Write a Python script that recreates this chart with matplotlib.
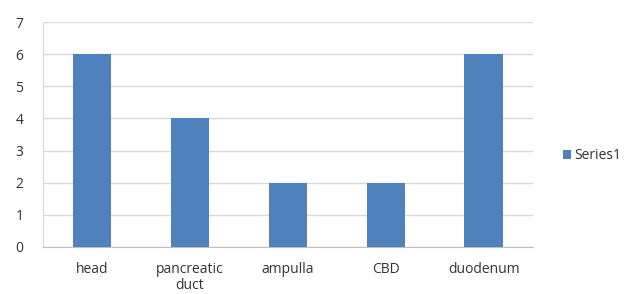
import matplotlib
matplotlib.use('Agg')
import matplotlib.pyplot as plt
from matplotlib.patches import Patch

# data
categories = ['head', 'pancreatic\nduct', 'ampulla', 'CBD', 'duodenum']
values = [6, 4, 2, 2, 6]
series_name = 'Series1'

bar_color = '#4F81BD'
text_color = '#333333'
grid_color = '#D9D9D9'

plt.rcParams['font.family'] = ['Open Sans', 'DejaVu Sans']

fig = plt.figure(figsize=(6.26, 2.94), dpi=100)
ax = fig.add_axes([0.0687, 0.160, 0.782, 0.765])

x = range(len(categories))
ax.bar(x, values, width=0.39, color=bar_color, zorder=3)

ax.set_xlim(-0.5, len(categories) - 0.5)
ax.set_ylim(0, 7)
ax.set_yticks(range(0, 8))
ax.set_xticks(list(x))
ax.set_xticklabels(categories, linespacing=1.05)

ax.yaxis.grid(True, color=grid_color, linewidth=1, zorder=0)
ax.tick_params(axis='both', length=0, labelsize=10, colors=text_color)
ax.tick_params(axis='y', pad=14)
ax.tick_params(axis='x', pad=11)

for s in ['top', 'right']:
    ax.spines[s].set_visible(False)
ax.spines['left'].set_color(grid_color)
ax.spines['bottom'].set_color('#BFBFBF')

handles = [Patch(facecolor=bar_color, label=series_name)]
fig.legend(handles=handles, loc='center left', bbox_to_anchor=(0.879, 0.47),
           frameon=False, fontsize=10, handlelength=0.6, handleheight=0.6,
           handletextpad=0.2, labelcolor=text_color)

fig.savefig('out.png', dpi=100)
